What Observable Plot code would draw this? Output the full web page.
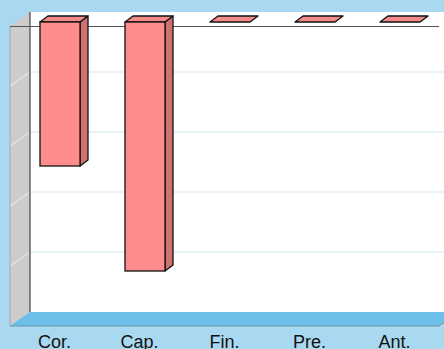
<!DOCTYPE html>
<html>
<head>
<meta charset="utf-8">
<script src="https://cdn.jsdelivr.net/npm/d3@7"></script>
<script src="https://cdn.jsdelivr.net/npm/@observablehq/plot@0.6"></script>
<style>
  html, body { margin: 0; padding: 0; background: #a9d9f0; overflow: hidden; }
  #chart svg { display: block; }
</style>
</head>
<body>
<div id="chart"></div>
<script>
// Category names and their values
const categories = ["Cor.", "Cap.", "Fin.", "Pre.", "Ant."];
const values = [-48, -83, 0, 0, 0];
// Value axis extent and gridline values
const yDomain = [-100, 0];
const gridValues = [-20, -40, -60, -80];

const rows = categories.map((name, i) => ({name, value: values[i]}));

// Depth of the 3D box: offset of the back wall from the front plane (px)
const depthX = 20, depthY = -14;
// Bars occupy the middle part of the box depth
const barNearX = 6, barNearY = -4;
const barDepthX = 8, barDepthY = -6;

function poly(g, pts, fill, stroke, strokeWidth) {
  g.append("path")
    .attr("d", "M" + pts.map(p => p.join(",")).join("L") + "Z")
    .attr("fill", fill)
    .attr("stroke", stroke || "none")
    .attr("stroke-width", strokeWidth || 1)
    .attr("stroke-linejoin", "round");
}

function seg(g, a, b, stroke, width) {
  g.append("line")
    .attr("x1", a[0]).attr("y1", a[1])
    .attr("x2", b[0]).attr("y2", b[1])
    .attr("stroke", stroke).attr("stroke-width", width || 1);
}

// Back wall, side wall and floor of the box
function box(index, scales, vals, dims) {
  const g = d3.create("svg:g");
  const x0 = dims.marginLeft, x1 = dims.width - dims.marginRight;
  const yTop = scales.y(yDomain[1]), yBot = scales.y(yDomain[0]);
  // back wall
  poly(g, [[x0 + depthX, yTop + depthY], [x1 + depthX, yTop + depthY],
           [x1 + depthX, yBot + depthY], [x0 + depthX, yBot + depthY]], "#ffffff");
  // left wall
  poly(g, [[x0, yTop], [x0 + depthX, yTop + depthY],
           [x0 + depthX, yBot + depthY], [x0, yBot]], "#cccccc");
  // gridlines on back and left walls
  for (const v of gridValues) {
    const y = scales.y(v);
    seg(g, [x0 + depthX, y + depthY], [x1 + depthX, y + depthY], "#d3e7ee", 1.2);
    seg(g, [x0, y], [x0 + depthX, y + depthY], "#dfe9ee", 1.2);
  }
  // floor
  poly(g, [[x0, yBot], [x0 + depthX, yBot + depthY],
           [x1 + depthX, yBot + depthY], [x1, yBot]], "#6bbfe8");
  seg(g, [x0, yBot], [x1, yBot], "#6f93a8", 1);
  seg(g, [x1, yBot], [x1 + depthX, yBot + depthY], "#6f93a8", 1);
  seg(g, [x0, yTop], [x0, yBot], "#a8a8a8", 1);
  // corner edge between back and left walls
  seg(g, [x0 + depthX, yTop + depthY], [x0 + depthX, yBot + depthY], "#444444", 1.2);
  return g.node();
}

// Top and side faces of each bar
function barFaces(index, scales, vals, dims) {
  const g = d3.create("svg:g");
  const bw = scales.x.bandwidth ? scales.x.bandwidth() : 40;
  for (const r of rows) {
    const xa = scales.x(r.name) + barNearX;
    const xb = xa + bw;
    const ya = scales.y(0) + barNearY;
    const yb = scales.y(r.value) + barNearY;
    if (yb - ya > 0.5) {
      poly(g, [[xb, ya], [xb + barDepthX, ya + barDepthY],
               [xb + barDepthX, yb + barDepthY], [xb, yb]], "#d07272", "#111", 1.3);
    }
    poly(g, [[xa, ya], [xb, ya], [xb + barDepthX, ya + barDepthY],
             [xa + barDepthX, ya + barDepthY]], "#f48a8a", "#111", 1.3);
  }
  return g.node();
}

const chart = Plot.plot({
  width: 444,
  height: 349,
  marginLeft: 10,
  marginRight: 5,
  marginTop: 26,
  marginBottom: 23,
  style: {
    background: "transparent",
    fontFamily: "'Liberation Sans', Arial, sans-serif",
    fontSize: "18px",
    color: "#111",
    overflow: "hidden"
  },
  x: {
    domain: categories,
    paddingInner: 0.528,
    paddingOuter: 0.264,
    tickSize: 0,
    tickPadding: 9,
    label: null
  },
  y: {domain: yDomain, axis: null},
  marks: [
    box,
    Plot.ruleY([0], {stroke: "#555555", strokeWidth: 1.2}),
    barFaces,
    Plot.barY(rows, {
      x: "name", y: "value",
      dx: barNearX, dy: barNearY,
      fill: "#ff8c8c", stroke: "#111", strokeWidth: 1.3
    })
  ]
});

document.getElementById("chart").appendChild(chart);
</script>
</body>
</html>
